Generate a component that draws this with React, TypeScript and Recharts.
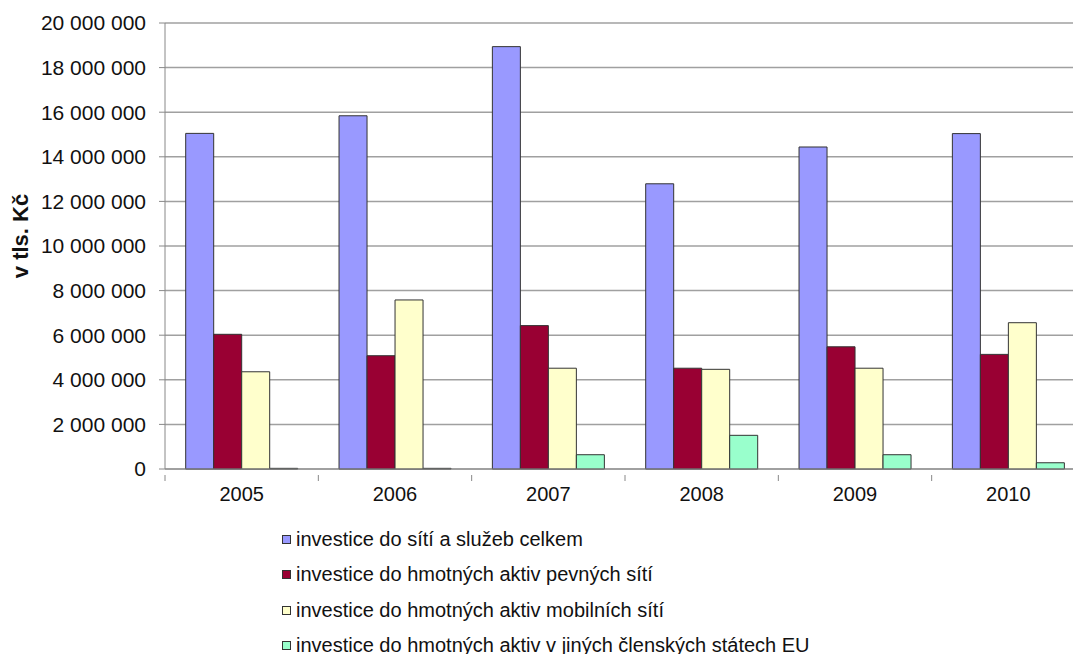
import { BarChart, Bar, XAxis, YAxis, CartesianGrid, Legend } from "recharts";

const years = ["2005", "2006", "2007", "2008", "2009", "2010"];
const celkem = [15050000, 15840000, 18940000, 12790000, 14440000, 15040000];
const pevne = [6040000, 5080000, 6430000, 4520000, 5480000, 5140000];
const mobilni = [4360000, 7580000, 4520000, 4470000, 4520000, 6560000];
const jineStaty = [30000, 30000, 640000, 1510000, 640000, 280000];
const yTicks = [0, 2000000, 4000000, 6000000, 8000000, 10000000, 12000000, 14000000, 16000000, 18000000, 20000000];

const series = [
  { key: "celkem", name: "investice do sítí a služeb celkem", color: "#9999FF" },
  { key: "pevne", name: "investice do hmotných aktiv pevných sítí", color: "#990033" },
  { key: "mobilni", name: "investice do hmotných aktiv mobilních sítí", color: "#FFFFCC" },
  { key: "jineStaty", name: "investice do hmotných aktiv v jiných členských státech EU", color: "#99FFCC" },
];

const data = years.map((year, i) => ({
  year,
  celkem: celkem[i],
  pevne: pevne[i],
  mobilni: mobilni[i],
  jineStaty: jineStaty[i],
}));

const font = "'Liberation Sans', Arial, sans-serif";

const fmt = (v: number) => String(v).replace(/\B(?=(\d{3})+(?!\d))/g, " ");

// label in the middle of the band, tick mark on the band's left edge (Excel style)
const XTick = (props: any) => {
  const { x, y, payload } = props;
  const edge = x - (payload.offset || 0);
  return (
    <g>
      <line x1={edge} x2={edge} y1={y - 12} y2={y - 6} stroke="#888" />
      <text x={x} y={y} dy="0.71em" textAnchor="middle" fill="#111" fontSize={20} fontFamily={font}>
        {payload.value}
      </text>
    </g>
  );
};

const YTitle = (props: any) => {
  const vb = props.viewBox;
  const cx = 20;
  const cy = vb.y + vb.height / 2 - 10;
  return (
    <text
      x={cx}
      y={cy}
      transform={`rotate(-90 ${cx} ${cy})`}
      textAnchor="middle"
      dominantBaseline="central"
      fontSize={22}
      fontWeight="bold"
      fontFamily={font}
      fill="#111"
    >
      v tls. Kč
    </text>
  );
};

const LegendList = () => (
  <div style={{ fontFamily: font, fontSize: 20, color: "#111" }}>
    {series.map((s) => (
      <div key={s.key} style={{ height: 35.3, display: "flex", alignItems: "center" }}>
        <span
          style={{
            display: "inline-block",
            width: 7,
            height: 7,
            background: s.color,
            border: "1px solid #333",
            marginRight: 5,
          }}
        />
        <span>{s.name}</span>
      </div>
    ))}
  </div>
);

export default function App() {
  return (
    <div style={{ position: "absolute", left: 0, top: 0, width: 1073, height: 654, overflow: "hidden", background: "#fff" }}>
      <BarChart
        width={1100}
        height={654}
        data={data}
        margin={{ top: 23, right: 15, left: 0, bottom: 155 }}
        barCategoryGap="13.5%"
        barGap={0}
      >
        <CartesianGrid vertical={false} stroke="#a0a0a0" strokeWidth={1.5} />
        <XAxis
          dataKey="year"
          height={30}
          stroke="#888"
          tickLine={false}
          tickMargin={12}
          tick={<XTick />}
        />
        <YAxis
          width={165}
          domain={[0, 20000000]}
          ticks={yTicks}
          tickFormatter={fmt}
          stroke="#888"
          tickSize={6}
          tickMargin={13}
          tick={{ fill: "#111", fontSize: 21, fontFamily: font }}
          label={<YTitle />}
        />
        <Legend
          layout="vertical"
          align="center"
          verticalAlign="middle"
          wrapperStyle={{ left: 282, top: 522, width: 560 }}
          content={<LegendList />}
        />
        {series.map((s) => (
          <Bar
            key={s.key}
            dataKey={s.key}
            name={s.name}
            fill={s.color}
            stroke="#333"
            strokeWidth={1}
            isAnimationActive={false}
          />
        ))}
      </BarChart>
    </div>
  );
}
